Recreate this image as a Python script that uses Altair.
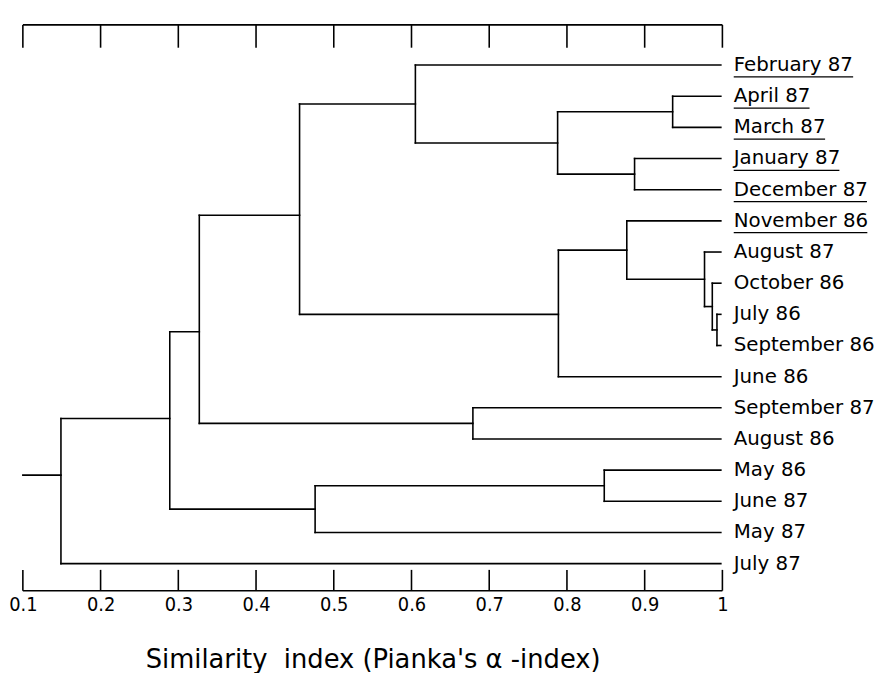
import altair as alt
import pandas as pd

# ---------------- data ----------------
leaf_names = ["February 87", "April 87", "March 87", "January 87", "December 87",
              "November 86", "August 87", "October 86", "July 86", "September 86",
              "June 86", "September 87", "August 86", "May 86", "June 87",
              "May 87", "July 87"]
leaf_underlined = [True, True, True, True, True, True,
                   False, False, False, False, False, False,
                   False, False, False, False, False]
leaf_x = 0.998

node_ids = ["A", "B", "C", "D", "E", "F", "G", "H", "I", "J", "K", "L", "M", "N", "O", "P"]
node_left = ["April 87", "January 87", "A", "February 87", "July 86", "October 86",
             "August 87", "November 86", "H", "D", "September 87", "J", "May 86",
             "M", "L", "O"]
node_right = ["March 87", "December 87", "B", "C", "September 86", "E", "F", "G",
              "June 86", "I", "August 86", "K", "June 87", "May 87", "N", "July 87"]
node_height = [0.936, 0.887, 0.788, 0.605, 0.993, 0.987, 0.977, 0.877, 0.789,
               0.456, 0.679, 0.327, 0.848, 0.476, 0.289, 0.149]
node_row = [1.5, 3.5, 2.5, 1.25, 8.5, 7.75, 6.875, 5.94, 8.0, 4.82, 11.5, 8.56,
            13.5, 14.25, 11.34, 13.16]
root_start = 0.1

tick_values = [0.1, 0.2, 0.3, 0.4, 0.5, 0.6, 0.7, 0.8, 0.9, 1.0]
x_title = "Similarity\u00a0 index (Pianka's \u03b1 -index)"

# ---------------- geometry from the tree ----------------
W, H = 706, 571
row_domain = [16.868, -1.288]

pos = {}
row = {}
for i, n in enumerate(leaf_names):
    pos[n] = leaf_x
    row[n] = i
for nid, h, r in zip(node_ids, node_height, node_row):
    pos[nid] = h
    row[nid] = r

segs = []
for nid, l, rr, h in zip(node_ids, node_left, node_right, node_height):
    segs.append(dict(x=h, x2=h, y=row[l], y2=row[rr]))
    for c in (l, rr):
        segs.append(dict(x=h, x2=pos[c], y=row[c], y2=row[c]))
segs.append(dict(x=root_start, x2=node_height[-1], y=node_row[-1], y2=node_row[-1]))
seg_df = pd.DataFrame(segs)

label_df = pd.DataFrame({"name": leaf_names, "x": leaf_x,
                         "row": list(range(len(leaf_names))),
                         "u": leaf_underlined})

# approximate DejaVu Sans advance widths (em) for underline length
cw = {" ": 0.318, "0": 0.636, "1": 0.636, "2": 0.636, "3": 0.636, "4": 0.636,
      "5": 0.636, "6": 0.636, "7": 0.636, "8": 0.636, "9": 0.636,
      "A": 0.684, "D": 0.770, "F": 0.575, "J": 0.295, "M": 0.863, "N": 0.748,
      "a": 0.613, "b": 0.635, "c": 0.550, "e": 0.615, "h": 0.634, "i": 0.278,
      "l": 0.278, "m": 0.974, "n": 0.634, "o": 0.612, "p": 0.635, "r": 0.411,
      "u": 0.634, "v": 0.592, "y": 0.592}
FS = 20
GAP = 13
px_per_unit = W / 0.9
ul = []
for i, (n, u) in enumerate(zip(leaf_names, leaf_underlined)):
    if u:
        wpx = sum(cw.get(ch, 0.6) for ch in n) * FS - 1
        ul.append(dict(x=leaf_x, x2=leaf_x + (GAP + wpx) / px_per_unit, row=i + 0.38))
ul_df = pd.DataFrame(ul)

frame_df = pd.DataFrame({"x": [0.1], "x2": [1.0]})
tick_df = pd.DataFrame({"t": tick_values})

# ---------------- encodings ----------------
xscale = alt.Scale(domain=[0.1, 1.0], nice=False, zero=False)
yscale = alt.Scale(domain=row_domain, nice=False, zero=False)
xaxis = alt.Axis(values=tick_values, format=".1~f", domain=False, ticks=False,
                 tickSize=0, grid=False,
                 labelFont="Liberation Sans Narrow, DejaVu Sans Condensed, sans-serif",
                 labelFontSize=20, labelColor="black", labelPadding=4,
                 labelFlush=False, labelOverlap=False,
                 title=x_title, titleFont="DejaVu Sans", titleFontSize=26,
                 titleFontWeight="normal", titleColor="black", titlePadding=33)


def X(field):
    return alt.X(field, type="quantitative", scale=xscale, axis=xaxis)


def Y(field):
    return alt.Y(field, type="quantitative", scale=yscale, axis=None)


LW = 1.6
tree = alt.Chart(seg_df).mark_rule(color="black", strokeWidth=LW, strokeCap="square").encode(
    x=X("x"), x2="x2", y=Y("y"), y2="y2")

labels = alt.Chart(label_df).mark_text(
    align="left", baseline="middle", dx=GAP, font="DejaVu Sans", fontSize=FS,
    color="black").encode(x=X("x"), y=Y("row"), text="name:N")

underline = alt.Chart(ul_df).mark_rule(color="black", strokeWidth=1.3, xOffset=GAP).encode(
    x=X("x"), x2="x2", y=Y("row"))

top_line = alt.Chart(frame_df).mark_rule(color="black", strokeWidth=LW).encode(
    x=X("x"), x2="x2", y=alt.value(0))
top_ticks = alt.Chart(tick_df).mark_rule(color="black", strokeWidth=LW).encode(
    x=X("t"), y=alt.value(0), y2=alt.value(23))
bot_line = alt.Chart(frame_df).mark_rule(color="black", strokeWidth=LW).encode(
    x=X("x"), x2="x2", y=alt.value(H))
bot_ticks = alt.Chart(tick_df).mark_rule(color="black", strokeWidth=LW).encode(
    x=X("t"), y=alt.value(H - 21), y2=alt.value(H))

chart = alt.layer(top_line, top_ticks, bot_line, bot_ticks, tree, underline, labels).properties(
    width=W, height=H,
    background="white",
    autosize=alt.AutoSizeParams(type="none"),
    padding={"left": 15, "top": 14, "right": 153, "bottom": 80},
).configure_view(stroke=None, strokeWidth=0)

chart.save("out.html", embed_options={"renderer": "svg", "actions": False})
